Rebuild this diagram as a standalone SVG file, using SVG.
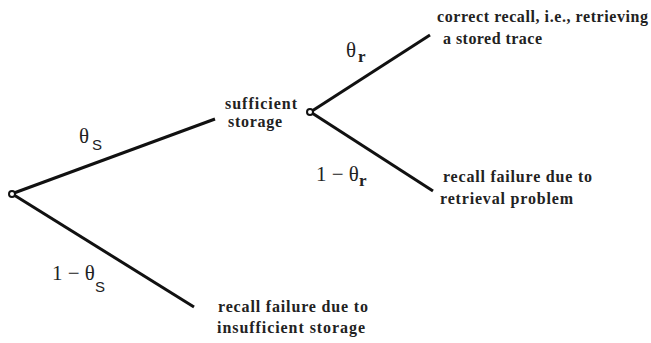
<svg xmlns="http://www.w3.org/2000/svg" width="651" height="343" viewBox="0 0 651 343">
<style>
.e{stroke:#111;stroke-width:3;fill:none;stroke-linecap:butt}
.n{fill:#fff;stroke:#111;stroke-width:2}
.t{font-family:"Liberation Serif",serif;font-weight:bold;font-size:16px;fill:#222}
.p{font-family:"Liberation Serif",serif;font-size:21px;fill:#222}
.s{font-family:"Liberation Sans",sans-serif;font-size:15px}
.r{font-family:"Liberation Serif",serif;font-weight:bold;font-size:17px}
</style>
<rect width="651" height="343" fill="#fff"/>
<g id="connectors">
<line class="e" x1="14" y1="193" x2="215" y2="119"/>
<line class="e" x1="14" y1="195" x2="194" y2="307"/>
<line class="e" x1="312" y1="111" x2="430" y2="35"/>
<line class="e" x1="312" y1="113" x2="433" y2="191"/>
</g>
<g id="root"><circle class="n" cx="12" cy="194" r="3"/></g>
<g id="storage"><circle class="n" cx="310" cy="112" r="3"/>
<text class="t" x="225" y="109" textLength="72">sufficient</text>
<text class="t" x="228" y="127" textLength="54">storage</text></g>
<g id="correct"><text class="t" x="437" y="22" textLength="211">correct recall, i.e., retrieving</text>
<text class="t" x="443" y="44" textLength="99">a stored trace</text></g>
<g id="retfail"><text class="t" x="443" y="182" textLength="149">recall failure due to</text>
<text class="t" x="440" y="204" textLength="133">retrieval problem</text></g>
<g id="storfail"><text class="t" x="218" y="312" textLength="150">recall failure due to</text>
<text class="t" x="217" y="333" textLength="148">insufficient storage</text></g>
<g id="labels">
<text class="p" x="79" y="143">θ<tspan class="s" x="92" y="150">S</tspan></text>
<text class="p" x="52" y="280">1 − θ<tspan class="s" x="95" y="292">S</tspan></text>
<text class="p" x="346" y="57">θ<tspan class="r" x="358" y="62">r</tspan></text>
<text class="p" x="316" y="181">1 − θ<tspan class="r" x="359" y="186">r</tspan></text>
</g>
</svg>
